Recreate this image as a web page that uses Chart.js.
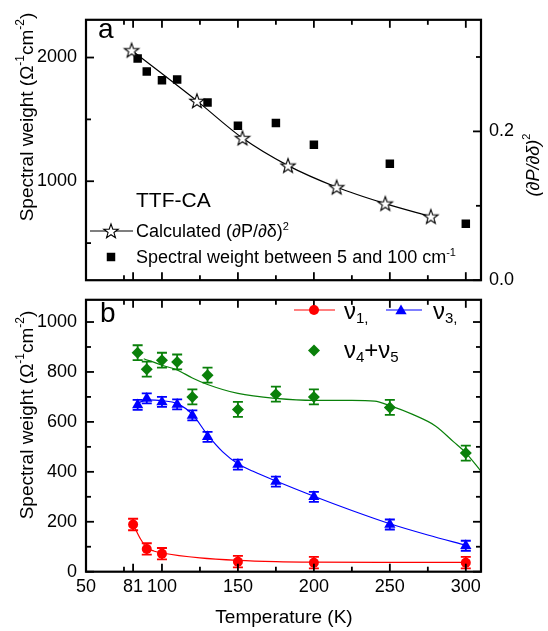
<!DOCTYPE html>
<html><head><meta charset="utf-8">
<script src="https://cdn.jsdelivr.net/npm/chart.js@4.4.1/dist/chart.umd.min.js"></script>
<style>
html,body{margin:0;padding:0;background:#fff;}
#wrap{position:relative;width:548px;height:631px;overflow:hidden;background:#fff;}
canvas{position:absolute;left:0;}
#cTop{top:0;}
#cBot{top:280px;}
</style></head><body>
<div id="wrap"><canvas id="cTop" width="548" height="300"></canvas><canvas id="cBot" width="548" height="351"></canvas></div>
<script>
const FONT = '"Liberation Sans", Arial, Helvetica, sans-serif';
// ---------------- data ----------------
const xTickValues = [50, 81, 100, 150, 200, 250, 300];
const xMinorValues = [75, 125, 175, 225, 275];
const topLeftTicks = [1000, 2000];
const topLeftMinor = [500, 1500];
const topRightTicks = [0.0, 0.2];
const topRightMinor = [0.1, 0.3];
const botTicks = [0, 200, 400, 600, 800, 1000];
const botMinor = [100, 300, 500, 700, 900];

// panel a
const calcT = [80, 123, 153, 183, 215, 247, 277];
const calcDP = [0.309, 0.241, 0.191, 0.154, 0.125, 0.103, 0.0855];
const swT = [84, 90, 100, 110, 130, 150, 175, 200, 250, 300];
const swVal = [1993, 1887, 1817, 1822, 1636, 1448, 1470, 1294, 1142, 657];

// panel b
const nu1T = [81, 90, 100, 150, 200, 300];
const nu1 = [189, 91, 72, 40, 36, 36];
const nu1Err = [23, 23, 23, 23, 23, 23];
const nu3T = [84, 90, 100, 110, 120, 130, 150, 175, 200, 250, 300];
const nu3 = [668, 694, 680, 670, 626, 540, 429, 361, 300, 189, 104];
const nu3Err = [20, 20, 20, 20, 20, 20, 20, 20, 20, 20, 20];
const nu45T = [84, 90, 100, 110, 120, 130, 150, 175, 200, 250, 300];
const nu45 = [877, 811, 847, 840, 700, 787, 650, 711, 700, 658, 475];
const nu45Err = [30, 30, 30, 30, 30, 30, 30, 30, 30, 30, 30];

// fitted curves
const fit1T = [81, 86, 90, 95, 100, 125, 150, 175, 200, 250, 300];
const fit1 = [190, 130, 96, 82, 75, 55, 45, 40, 38, 37, 37];
const fit3T = [84, 90, 100, 110, 120, 130, 140, 150, 160, 175, 200, 225, 250, 275, 300];
const fit3 = [675, 688, 685, 673, 630, 548, 480, 432, 402, 363, 302, 245, 192, 147, 106];
const fit45T = [88, 100, 110, 120, 130, 150, 175, 200, 225, 240, 250, 265, 280, 292, 300, 310];
const fit45 = [853, 827, 808, 776, 750, 714, 694, 686, 686, 683, 665, 630, 584, 520, 476, 402];

// ---------------- helpers ----------------
const pts = (xs, ys) => xs.map((x, i) => ({x: x, y: ys[i]}));
const RED = '#ff0000', BLUE = '#0000ff', GREEN = '#0a800a';

function makeStar(R, r) {
  const s = Math.ceil(2 * R + 4);
  const c = document.createElement('canvas');
  c.width = s; c.height = s;
  const g = c.getContext('2d');
  g.translate(s / 2, s / 2 + 0.6);
  drawStarPath(g, 0, 0, R, r);
  g.fillStyle = '#fff'; g.fill();
  g.lineWidth = 1.1; g.strokeStyle = '#000'; g.stroke();
  return c;
}
function drawStarPath(g, x, y, R, r) {
  g.beginPath();
  for (let i = 0; i < 10; i++) {
    const a = -Math.PI / 2 + i * Math.PI / 5;
    const rr = (i % 2) ? r : R;
    g.lineTo(x + rr * Math.cos(a), y + rr * Math.sin(a));
  }
  g.closePath();
}
const starImg = makeStar(7.6, 3.1);

function fontOf(size, italic) { return (italic ? 'italic ' : '') + size + 'px ' + FONT; }
// parts: [text, mode(0 normal,1 sup,-1 sub), italic]
function drawRich(ctx, parts, x, y, size, align) {
  let w = 0;
  const sub = Math.round(size * 0.62);
  parts.forEach(p => { ctx.font = fontOf(p[1] ? sub : size, p[2]); w += ctx.measureText(p[0]).width; });
  let cx = align === 'center' ? x - w / 2 : x;
  ctx.textAlign = 'left';
  parts.forEach(p => {
    ctx.font = fontOf(p[1] ? sub : size, p[2]);
    const dy = p[1] === 1 ? -size * 0.38 : (p[1] === -1 ? size * 0.18 : 0);
    ctx.fillText(p[0], cx, y + dy);
    cx += ctx.measureText(p[0]).width;
  });
}
function drawMarker(ctx, kind, x, y, r, color) {
  ctx.save();
  ctx.fillStyle = color; ctx.strokeStyle = color; ctx.lineWidth = 1;
  ctx.beginPath();
  if (kind === 'circle') ctx.arc(x, y, r, 0, Math.PI * 2);
  else if (kind === 'triangle') { ctx.moveTo(x, y - r); ctx.lineTo(x + r * 0.866, y + r / 2); ctx.lineTo(x - r * 0.866, y + r / 2); ctx.closePath(); }
  else if (kind === 'diamond') { ctx.moveTo(x, y - r); ctx.lineTo(x + r, y); ctx.lineTo(x, y + r); ctx.lineTo(x - r, y); ctx.closePath(); }
  else if (kind === 'rect') { const s = r * Math.SQRT1_2; ctx.rect(x - s, y - s, 2 * s, 2 * s); }
  ctx.fill();
  ctx.restore();
}

// frame + inward ticks
const framePlugin = {
  id: 'frameTicks',
  afterDraw(chart, args, o) {
    const ctx = chart.ctx, a = chart.chartArea, sc = chart.scales;
    const MAJ = 8, MIN = 5;
    ctx.save();
    ctx.strokeStyle = '#000'; ctx.lineWidth = 1.8;
    const t = (x1, y1, x2, y2) => { ctx.beginPath(); ctx.moveTo(x1, y1); ctx.lineTo(x2, y2); ctx.stroke(); };
    const x = sc.x;
    xTickValues.forEach(v => { const p = x.getPixelForValue(v); t(p, a.bottom, p, a.bottom - MAJ); t(p, a.top, p, a.top + MAJ); });
    xMinorValues.forEach(v => { const p = x.getPixelForValue(v); t(p, a.bottom, p, a.bottom - MIN); t(p, a.top, p, a.top + MIN); });
    const yl = sc[o.left];
    o.leftMajor.forEach(v => { const p = yl.getPixelForValue(v); t(a.left, p, a.left + MAJ, p); });
    o.leftMinor.forEach(v => { const p = yl.getPixelForValue(v); t(a.left, p, a.left + MIN, p); });
    const yr = sc[o.right];
    o.rightMajor.forEach(v => { const p = yr.getPixelForValue(v); t(a.right, p, a.right - MAJ, p); });
    o.rightMinor.forEach(v => { const p = yr.getPixelForValue(v); t(a.right, p, a.right - MIN, p); });
    ctx.lineWidth = 2.2;
    ctx.strokeRect(a.left, a.top, a.right - a.left, a.bottom - a.top);
    ctx.restore();
  }
};

// error bars drawn before each marker dataset
const errorPlugin = {
  id: 'errBars',
  beforeDatasetDraw(chart, args) {
    const ds = chart.data.datasets[args.index];
    if (!ds.errors) return;
    const ctx = chart.ctx, ys = chart.scales[ds.yAxisID || 'y'];
    ctx.save();
    ctx.strokeStyle = ds.backgroundColor; ctx.lineWidth = 1.8;
    args.meta.data.forEach((el, i) => {
      const v = ds.data[i].y, e = ds.errors[i];
      const y1 = ys.getPixelForValue(v + e), y2 = ys.getPixelForValue(v - e);
      ctx.beginPath();
      ctx.moveTo(el.x, y1); ctx.lineTo(el.x, y2);
      ctx.moveTo(el.x - 5, y1); ctx.lineTo(el.x + 5, y1);
      ctx.moveTo(el.x - 5, y2); ctx.lineTo(el.x + 5, y2);
      ctx.stroke();
    });
    ctx.restore();
  }
};

const tickFont = {family: FONT, size: 18};
const plainNum = v => String(v);

// ---------------- top chart (a) ----------------
const topDeco = {
  id: 'topDeco',
  afterDraw(chart) {
    const ctx = chart.ctx;
    ctx.save();
    ctx.fillStyle = '#000'; ctx.textBaseline = 'alphabetic';
    ctx.font = fontOf(28); ctx.fillText('a', 98, 38);
    ctx.font = fontOf(21); ctx.fillText('TTF-CA', 136, 207);
    // legend line 1
    ctx.strokeStyle = '#000'; ctx.lineWidth = 1.2;
    ctx.beginPath(); ctx.moveTo(90, 231); ctx.lineTo(133, 231); ctx.stroke();
    ctx.drawImage(starImg, 111 - starImg.width / 2, 231 - starImg.height / 2);
    drawRich(ctx, [['Calculated (∂P/∂δ)', 0], ['2', 1]], 136, 237, 18, 'left');
    drawMarker(ctx, 'rect', 111, 257, 6, '#000');
    drawRich(ctx, [['Spectral weight between 5 and 100 cm', 0], ['-1', 1]], 136, 263, 18, 'left');
    // axis titles
    ctx.save(); ctx.translate(28, 117); ctx.rotate(-Math.PI / 2); ctx.textBaseline = 'middle';
    drawRich(ctx, [['Spectral weight (Ω', 0], ['-1', 1], ['cm', 0], ['-2', 1], [')', 0]], 0, 0, 19, 'center');
    ctx.restore();
    ctx.save(); ctx.translate(534, 165); ctx.rotate(-Math.PI / 2); ctx.textBaseline = 'middle';
    drawRich(ctx, [['(∂P/∂δ)', 0, true], ['2', 1]], 0, 0, 18, 'center');
    ctx.restore();
    ctx.restore();
  }
};

new Chart(document.getElementById('cTop'), {
  type: 'scatter',
  data: {
    datasets: [
      {
        label: 'Calculated (∂P/∂δ)²', data: pts(calcT, calcDP), yAxisID: 'yR',
        showLine: true, cubicInterpolationMode: 'monotone', borderColor: '#000', borderWidth: 1.2,
        pointStyle: starImg, pointRadius: 7, backgroundColor: '#fff'
      },
      {
        label: 'Spectral weight between 5 and 100 cm⁻¹', data: pts(swT, swVal), yAxisID: 'yL',
        showLine: false, pointStyle: 'rect', pointRadius: 6, backgroundColor: '#000', borderColor: '#000', borderWidth: 0
      }
    ]
  },
  options: {
    responsive: false, animation: false, devicePixelRatio: 1,
    layout: {padding: {top: 6, left: 0, right: 0, bottom: 0}},
    plugins: {legend: {display: false}, tooltip: {enabled: false},
      frameTicks: {left: 'yL', leftMajor: topLeftTicks, leftMinor: topLeftMinor, right: 'yR', rightMajor: topRightTicks, rightMinor: topRightMinor}},
    scales: {
      x: {type: 'linear', min: 50, max: 310, ticks: {display: false}, grid: {display: false, drawTicks: false}, border: {display: false},
          afterFit(s) { s.height = 11; }},
      yL: {type: 'linear', position: 'left', min: 200, max: 2305,
           afterBuildTicks(s) { s.ticks = topLeftTicks.map(v => ({value: v})); },
           ticks: {font: tickFont, color: '#000', padding: 9, callback: plainNum},
           grid: {display: false, drawTicks: false}, border: {display: false},
           afterFit(s) { s.width = 86; }},
      yR: {type: 'linear', position: 'right', min: 0, max: 0.35,
           afterBuildTicks(s) { s.ticks = topRightTicks.map(v => ({value: v})); },
           ticks: {font: tickFont, color: '#000', padding: 8, callback: v => Number(v).toFixed(1)},
           grid: {display: false, drawTicks: false}, border: {display: false},
           afterFit(s) { s.width = 67; }}
    }
  },
  plugins: [framePlugin, topDeco]
});

// ---------------- bottom chart (b) ----------------
const botDeco = {
  id: 'botDeco',
  afterDraw(chart) {
    const ctx = chart.ctx;
    ctx.save();
    ctx.fillStyle = '#000'; ctx.textBaseline = 'alphabetic';
    ctx.font = fontOf(28); ctx.fillText('b', 100, 41.5);
    // legend
    ctx.lineWidth = 1.2;
    ctx.strokeStyle = RED; ctx.beginPath(); ctx.moveTo(294, 30); ctx.lineTo(335, 30); ctx.stroke();
    drawMarker(ctx, 'circle', 314, 30, 5, RED);
    drawRich(ctx, [['ν', 0], ['1', -1], [',', -1]], 344, 39, 24, 'left');
    ctx.strokeStyle = BLUE; ctx.beginPath(); ctx.moveTo(386, 30); ctx.lineTo(422, 30); ctx.stroke();
    drawMarker(ctx, 'triangle', 401, 31, 6.5, BLUE);
    drawRich(ctx, [['ν', 0], ['3', -1], [',', -1]], 433, 39, 24, 'left');
    drawMarker(ctx, 'diamond', 314, 70.5, 6, GREEN);
    drawRich(ctx, [['ν', 0], ['4', -1], ['+', 0], ['ν', 0], ['5', -1]], 344, 78, 24, 'left');
    // titles
    ctx.save(); ctx.translate(28, 135); ctx.rotate(-Math.PI / 2); ctx.textBaseline = 'middle';
    drawRich(ctx, [['Spectral weight (Ω', 0], ['-1', 1], ['cm', 0], ['-2', 1], [')', 0]], 0, 0, 19, 'center');
    ctx.restore();
    ctx.textBaseline = 'middle';
    drawRich(ctx, [['Temperature (K)', 0]], 284, 338, 19, 'center');
    ctx.restore();
  }
};

new Chart(document.getElementById('cBot'), {
  type: 'scatter',
  data: {
    datasets: [
      {label: 'ν1', data: pts(nu1T, nu1), errors: nu1Err, yAxisID: 'y', showLine: false,
       pointStyle: 'circle', pointRadius: 5, backgroundColor: RED, borderColor: RED, borderWidth: 0},
      {label: 'ν3', data: pts(nu3T, nu3), errors: nu3Err, yAxisID: 'y', showLine: false,
       pointStyle: 'triangle', pointRadius: 6.5, backgroundColor: BLUE, borderColor: BLUE, borderWidth: 0},
      {label: 'ν4+ν5', data: pts(nu45T, nu45), errors: nu45Err, yAxisID: 'y', showLine: false,
       pointStyle: 'rectRot', pointRadius: 6, backgroundColor: GREEN, borderColor: GREEN, borderWidth: 0},
      {label: 'fit ν1', data: pts(fit1T, fit1), yAxisID: 'y', showLine: true, cubicInterpolationMode: 'monotone',
       pointRadius: 0, borderColor: RED, borderWidth: 1.2},
      {label: 'fit ν3', data: pts(fit3T, fit3), yAxisID: 'y', showLine: true, cubicInterpolationMode: 'monotone',
       pointRadius: 0, borderColor: BLUE, borderWidth: 1.2},
      {label: 'fit ν4+ν5', data: pts(fit45T, fit45), yAxisID: 'y', showLine: true, cubicInterpolationMode: 'monotone',
       pointRadius: 0, borderColor: GREEN, borderWidth: 1.2}
    ]
  },
  options: {
    responsive: false, animation: false, devicePixelRatio: 1,
    layout: {padding: {top: 9, left: 0, right: 67, bottom: 0}},
    plugins: {legend: {display: false}, tooltip: {enabled: false},
      frameTicks: {left: 'y', leftMajor: botTicks, leftMinor: botMinor, right: 'y', rightMajor: botTicks, rightMinor: botMinor}},
    scales: {
      x: {type: 'linear', min: 50, max: 310,
          afterBuildTicks(s) { s.ticks = xTickValues.map(v => ({value: v})); },
          ticks: {font: tickFont, color: '#000', padding: 5, autoSkip: false, maxRotation: 0, callback: plainNum},
          grid: {display: false, drawTicks: false}, border: {display: false},
          afterFit(s) { s.height = 59.3; }},
      y: {type: 'linear', position: 'left', min: 0, max: 1089,
          afterBuildTicks(s) { s.ticks = botTicks.map(v => ({value: v})); },
          ticks: {font: tickFont, color: '#000', padding: 9, callback: plainNum},
          grid: {display: false, drawTicks: false}, border: {display: false},
          afterFit(s) { s.width = 86; }}
    }
  },
  plugins: [framePlugin, errorPlugin, botDeco]
});
</script>
</body></html>
